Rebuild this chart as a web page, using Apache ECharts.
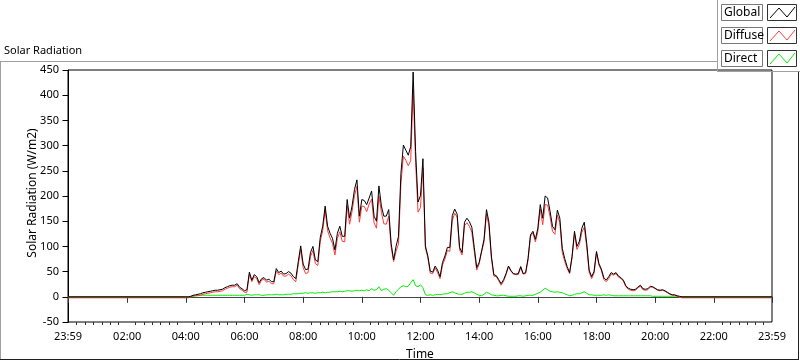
<!DOCTYPE html>
<html>
<head>
<meta charset="utf-8">
<script src="https://cdn.jsdelivr.net/npm/echarts@6/dist/echarts.min.js"></script>
<style>
  html, body { margin: 0; padding: 0; background: #fff; }
  #chart { width: 800px; height: 361px; }
</style>
</head>
<body>
<div id="chart"></div>
<script>
// time axis in minutes, 23:59 of the day before to 23:59
var axisStart = -1;
var axisEnd = 1439;
var majorTicks = [-1, 120, 240, 360, 480, 600, 720, 840, 960, 1080, 1200, 1320, 1439];
var tickLabels = ['23:59', '02:00', '04:00', '06:00', '08:00', '10:00', '12:00', '14:00', '16:00', '18:00', '20:00', '22:00', '23:59'];
var minorPerMajor = 7;

// daytime samples, every 5 minutes from 04:00
var dayStart = 240;
var stepMinutes = 5;

var globalRad = [
  0, 0, 1, 3, 4, 5, 6, 8, 9, 10, 11, 12,
  13, 13, 14, 15, 18, 20, 22, 23, 23, 26, 19, 16,
  12, 14, 49, 33, 44, 40, 28, 36, 38, 33, 35, 30,
  30, 56, 48, 51, 45, 46, 50, 47, 40, 36, 70, 101,
  65, 54, 55, 88, 100, 73, 70, 118, 140, 180, 140, 126,
  116, 93, 126, 140, 120, 120, 193, 156, 180, 213, 232, 160,
  193, 191, 183, 196, 210, 160, 150, 220, 180, 160, 160, 173,
  106, 73, 100, 120, 245, 301, 291, 281, 298, 446, 288, 188,
  201, 274, 101, 81, 51, 49, 61, 53, 40, 68, 81, 98,
  98, 161, 174, 164, 98, 88, 148, 156, 149, 138, 98, 58,
  68, 91, 114, 173, 148, 81, 44, 42, 34, 26, 34, 46,
  61, 52, 46, 45, 46, 60, 46, 48, 76, 123, 130, 114,
  136, 183, 156, 200, 196, 170, 140, 133, 172, 156, 96, 76,
  60, 48, 80, 130, 100, 110, 136, 148, 106, 53, 40, 50,
  90, 66, 55, 38, 33, 40, 48, 45, 48, 41, 38, 33,
  22, 17, 15, 14, 15, 20, 23, 16, 15, 16, 21, 20,
  17, 14, 13, 14, 12, 9, 6, 4, 4, 2, 1, 0
];
var diffuseRad = [
  -2, -2, 0, 2, 2, 3, 3, 5, 6, 7, 8, 9,
  10, 10, 11, 12, 15, 17, 19, 20, 20, 23, 16, 13,
  9, 9, 45, 30, 40, 36, 24, 33, 35, 29, 31, 26,
  26, 51, 44, 47, 41, 41, 45, 42, 34, 30, 64, 94,
  58, 46, 48, 80, 92, 66, 62, 110, 131, 172, 131, 117,
  106, 83, 116, 129, 110, 109, 181, 144, 169, 201, 219, 148,
  180, 179, 169, 184, 194, 147, 136, 200, 168, 145, 144, 160,
  98, 70, 90, 105, 225, 279, 271, 260, 270, 412, 266, 168,
  177, 256, 97, 78, 47, 46, 57, 48, 36, 63, 75, 92,
  90, 151, 166, 158, 93, 83, 141, 147, 140, 128, 90, 53,
  65, 89, 109, 164, 141, 77, 41, 40, 32, 23, 31, 44,
  60, 51, 45, 44, 44, 58, 45, 46, 73, 120, 127, 109,
  129, 174, 143, 183, 182, 159, 130, 124, 162, 147, 88, 70,
  56, 46, 77, 125, 94, 104, 128, 138, 99, 49, 36, 47,
  87, 63, 52, 34, 30, 36, 45, 43, 46, 39, 36, 31,
  20, 15, 13, 12, 13, 18, 21, 14, 13, 14, 19, 19,
  16, 13, 12, 13, 11, 8, 5, 3, 3, 1, -1, -2
];
var directRad = [
  0, 0, 0, 1, 2, 2, 3, 3, 3, 3, 3, 3,
  3, 3, 3, 3, 3, 3, 3, 3, 3, 3, 3, 3,
  3, 5, 4, 3, 4, 4, 4, 3, 3, 4, 4, 4,
  4, 5, 4, 4, 4, 5, 5, 5, 6, 6, 6, 7,
  7, 8, 7, 8, 8, 7, 8, 8, 9, 8, 9, 9,
  10, 10, 10, 11, 10, 11, 12, 12, 11, 12, 13, 12,
  13, 12, 14, 12, 16, 13, 14, 20, 12, 15, 16, 13,
  8, 3, 10, 15, 20, 22, 20, 21, 28, 34, 22, 20,
  24, 18, 4, 3, 4, 3, 4, 5, 4, 5, 6, 6,
  8, 10, 8, 6, 5, 5, 7, 9, 9, 10, 8, 5,
  3, 2, 5, 9, 7, 4, 3, 2, 2, 3, 3, 2,
  1, 1, 1, 1, 2, 2, 1, 2, 3, 3, 3, 5,
  7, 9, 13, 17, 14, 11, 10, 9, 10, 9, 8, 6,
  4, 2, 3, 5, 6, 6, 8, 10, 7, 4, 4, 3,
  3, 3, 3, 4, 3, 4, 3, 2, 2, 2, 2, 2,
  2, 2, 2, 2, 2, 2, 2, 2, 2, 2, 2, 1,
  1, 1, 1, 1, 1, 1, 1, 1, 1, 1, 0, 0
];
// night level of each sensor (before sunrise / after sunset)
var nightGlobal = 0;
var nightDiffuse = -2;
var nightDirect = 0;

var seriesNames = ['Global', 'Diffuse', 'Direct'];
var seriesColors = ['#000000', '#ff3b3b', '#00f000'];

// [minute, value] pairs, with the flat night parts at both ends
function toPoints(values, night){
    var pts = [[axisStart, night]];
    for (var i = 0; i < values.length; i++) {
        pts.push([dayStart + i * stepMinutes, values[i]]);
    }
    pts.push([axisEnd, night]);
    return pts;
}

function minorTicks(){
    var out = [];
    for (var k = 0; k < majorTicks.length - 1; k++) {
        var a = majorTicks[k], b = majorTicks[k + 1];
        for (var j = 1; j < minorPerMajor; j++) {
            out.push(a + (b - a) * j / minorPerMajor);
        }
    }
    return out;
}

function lineSeries(name, color, values, night){
    return {
        name: name,
        type: 'line',
        data: toPoints(values, night),
        showSymbol: false,
        symbol: 'none',
        lineStyle: { color: color, width: 1 },
        itemStyle: { color: color },
        animation: false
    };
}

// LabVIEW style legend box at top right
function legendGraphic(){
    var g = [];
    var rowTop = [4, 27, 50];
    for (var i = 0; i < seriesNames.length; i++) {
        var y = rowTop[i];
        g.push({ type: 'rect', shape: { x: 721.5, y: y + 0.5, width: 41, height: 16 },
            style: { fill: '#fff', stroke: '#7a7a7a', lineWidth: 1 } });
        g.push({ type: 'text', x: 724, y: y + 9, style: { text: seriesNames[i], fill: '#000',
            font: '12px "Noto Sans"', textVerticalAlign: 'middle' } });
        g.push({ type: 'rect', shape: { x: 767.5, y: y + 0.5, width: 29, height: 16 },
            style: { fill: '#fff', stroke: '#333', lineWidth: 1 } });
        g.push({ type: 'polyline', shape: { points: [[770, y + 14], [779, y + 4], [787, y + 13], [795, y + 3]] },
            style: { stroke: seriesColors[i], lineWidth: 1, fill: null } });
    }
    return g;
}

function frameGraphic(){
    return [
        { type: 'line', shape: { x1: 0, y1: 61.5, x2: 718, y2: 61.5 }, style: { stroke: '#a0a0a0', lineWidth: 1 } },
        { type: 'line', shape: { x1: 0.5, y1: 61, x2: 0.5, y2: 360 }, style: { stroke: '#a0a0a0', lineWidth: 1 } },
        { type: 'line', shape: { x1: 717.5, y1: 0, x2: 717.5, y2: 72 }, style: { stroke: '#a0a0a0', lineWidth: 1 } },
        { type: 'line', shape: { x1: 717, y1: 71.5, x2: 800, y2: 71.5 }, style: { stroke: '#a0a0a0', lineWidth: 1 } },
        { type: 'line', shape: { x1: 0, y1: 359.5, x2: 799, y2: 359.5 }, style: { stroke: '#202020', lineWidth: 1 } },
        { type: 'line', shape: { x1: 798.5, y1: 72, x2: 798.5, y2: 360 }, style: { stroke: '#202020', lineWidth: 1 } }
    ];
}

var chart = echarts.init(document.getElementById('chart'), null, { renderer: 'canvas' });

var axisFont = { color: '#000', fontSize: 11, fontFamily: 'Noto Sans' };

var option = {
    animation: false,
    backgroundColor: '#fff',
    title: {
        text: 'Solar Radiation',
        left: 4, top: 45, padding: 0,
        textStyle: { color: '#000', fontSize: 11, fontWeight: 'normal', fontFamily: 'Noto Sans' }
    },
    grid: {
        left: 68, top: 70, width: 704, height: 252,
        outerBoundsMode: 'none', containLabel: false,
        show: true, backgroundColor: '#fff', borderColor: '#000', borderWidth: 1
    },
    xAxis: [{
        type: 'value',
        min: axisStart, max: axisEnd,
        name: 'Time', nameLocation: 'middle', nameGap: 27, nameMoveOverlap: false,
        nameTextStyle: { color: '#000', fontSize: 12, fontFamily: 'Noto Sans' },
        axisLine: { lineStyle: { color: '#444' } },
        axisTick: { inside: false, length: 6, customValues: majorTicks, lineStyle: { color: '#333' } },
        axisLabel: Object.assign({ margin: 9, customValues: majorTicks,
            formatter: function (v) { return tickLabels[majorTicks.indexOf(v)]; } }, axisFont),
        splitLine: { show: false }
    }, {
        type: 'value',
        min: axisStart, max: axisEnd,
        position: 'bottom',
        axisLine: { show: false },
        axisTick: { inside: false, length: 3, customValues: minorTicks(), lineStyle: { color: '#333' } },
        axisLabel: { show: false },
        splitLine: { show: false }
    }],
    yAxis: {
        type: 'value',
        min: -50, max: 450, interval: 50,
        name: 'Solar Radiation (W/m2)', nameLocation: 'middle', nameGap: 29, nameMoveOverlap: false,
        nameTextStyle: { color: '#000', fontSize: 12, fontFamily: 'Noto Sans', padding: [0, 0, 0, 6] },
        axisLine: { show: true, lineStyle: { color: '#000' } },
        axisTick: { show: true, inside: false, length: 6, lineStyle: { color: '#000' } },
        axisLabel: Object.assign({ margin: 9 }, axisFont),
        splitLine: { show: false }
    },
    series: [
        lineSeries(seriesNames[2], seriesColors[2], directRad, nightDirect),
        lineSeries(seriesNames[1], seriesColors[1], diffuseRad, nightDiffuse),
        lineSeries(seriesNames[0], seriesColors[0], globalRad, nightGlobal)
    ],
    graphic: frameGraphic().concat(legendGraphic())
};

chart.setOption(option);
</script>
</body>
</html>
